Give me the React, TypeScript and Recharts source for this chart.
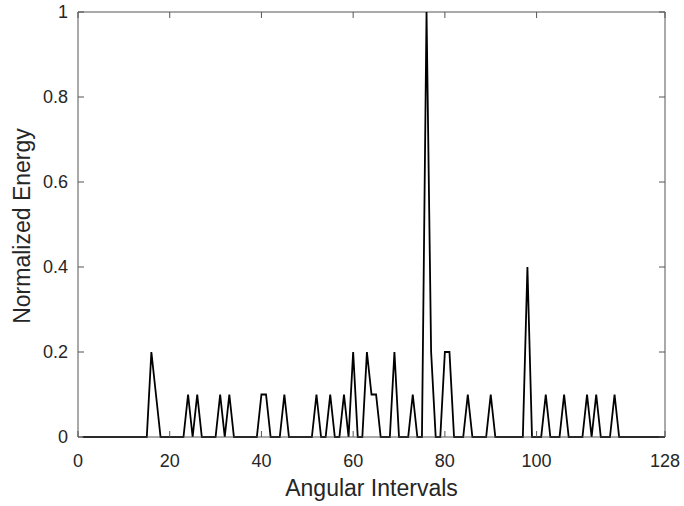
import { Label, Line, LineChart, ReferenceLine, XAxis, YAxis } from "recharts"

// normalized energy per angular interval, intervals 1..128 (16 per row)
const energy = [
  0, 0, 0, 0, 0, 0, 0, 0, 0, 0, 0, 0, 0, 0, 0, 0.2,
  0.1, 0, 0, 0, 0, 0, 0, 0.1, 0, 0.1, 0, 0, 0, 0, 0.1, 0,
  0.1, 0, 0, 0, 0, 0, 0, 0.1, 0.1, 0, 0, 0, 0.1, 0, 0, 0,
  0, 0, 0, 0.1, 0, 0, 0.1, 0, 0, 0.1, 0, 0.2, 0, 0, 0.2, 0.1,
  0.1, 0, 0, 0, 0.2, 0, 0, 0, 0.1, 0, 0, 1, 0.2, 0, 0, 0.2,
  0.2, 0, 0, 0, 0.1, 0, 0, 0, 0, 0.1, 0, 0, 0, 0, 0, 0,
  0, 0.4, 0, 0, 0, 0.1, 0, 0, 0, 0.1, 0, 0, 0, 0, 0.1, 0,
  0.1, 0, 0, 0, 0.1, 0, 0, 0, 0, 0, 0, 0, 0, 0, 0, 0,
]
const intervals = energy.map((_, i) => i + 1)

const xTicks = [0, 20, 40, 60, 80, 100, 128]
const yTicks = [0, 0.2, 0.4, 0.6, 0.8, 1]

const data = intervals.map((interval, i) => ({ interval, energy: energy[i] }))

const font = "'Liberation Sans', Arial, Helvetica, sans-serif"
const axisColor = "#555555"
const textColor = "#262626"

// plot box edges (matlab style box with inward ticks)
const PLOT_TOP = 12
const PLOT_RIGHT = 665
const TICK_LEN = 6

// x tick: inward mark at bottom and top, label below
const XTick = (props: any) => {
  const { x, y, payload } = props
  return (
    <g>
      <line x1={x} x2={x} y1={y} y2={y - TICK_LEN} stroke={axisColor} />
      <line x1={x} x2={x} y1={PLOT_TOP} y2={PLOT_TOP + TICK_LEN} stroke={axisColor} />
      <text x={x} y={y + 30} textAnchor="middle" fill={textColor} fontSize={18} fontFamily={font}>
        {payload.value}
      </text>
    </g>
  )
}

// y tick: inward mark at left and right, label to the left
const YTick = (props: any) => {
  const { x, y, payload } = props
  return (
    <g>
      <line x1={x} x2={x + TICK_LEN} y1={y} y2={y} stroke={axisColor} />
      <line x1={PLOT_RIGHT} x2={PLOT_RIGHT - TICK_LEN} y1={y} y2={y} stroke={axisColor} />
      <text x={x - 10} y={y} dy="0.36em" textAnchor="end" fill={textColor} fontSize={18} fontFamily={font}>
        {payload.value}
      </text>
    </g>
  )
}

export default function App() {
  return (
    <div style={{ position: "absolute", left: 0, top: 0, width: 684, height: 506, background: "#fff" }}>
      <LineChart
        width={684}
        height={506}
        data={data}
        margin={{ top: PLOT_TOP, right: 684 - PLOT_RIGHT, left: 0, bottom: 0 }}
        style={{ fontFamily: font }}
      >
        <XAxis
          dataKey="interval"
          type="number"
          domain={[0, 128]}
          ticks={xTicks}
          height={69}
          tickLine={false}
          tickSize={0}
          tickMargin={0}
          stroke={axisColor}
          tick={<XTick />}
        >
          <Label
            content={() => (
              <text x={371.5} y={496} textAnchor="middle" fill={textColor} fontSize={23} fontFamily={font}>
                Angular Intervals
              </text>
            )}
          />
        </XAxis>
        <YAxis
          type="number"
          domain={[0, 1]}
          ticks={yTicks}
          width={78}
          tickLine={false}
          tickSize={0}
          tickMargin={0}
          stroke={axisColor}
          tick={<YTick />}
        >
          <Label
            content={() => (
              <text
                x={30}
                y={226}
                transform="rotate(-90 30 226)"
                textAnchor="middle"
                fill={textColor}
                fontSize={23}
                fontFamily={font}
              >
                Normalized Energy
              </text>
            )}
          />
        </YAxis>
        <ReferenceLine y={1} stroke={axisColor} />
        <ReferenceLine x={128} stroke={axisColor} />
        <Line
          type="linear"
          dataKey="energy"
          stroke="#000"
          strokeWidth={1.8}
          dot={false}
          activeDot={false}
          isAnimationActive={false}
        />
      </LineChart>
    </div>
  )
}
